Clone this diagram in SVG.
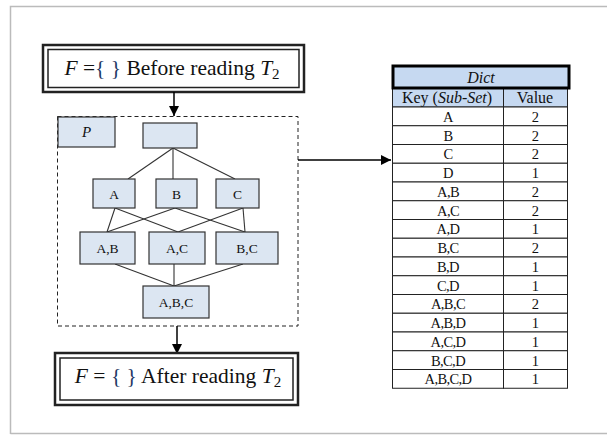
<svg xmlns="http://www.w3.org/2000/svg" width="607" height="435" viewBox="0 0 607 435">
<style>
.t{font-family:"Liberation Serif","Times New Roman",serif;fill:#111}
.big{font-size:21.5px}
.lbl{font-size:13.5px;text-anchor:middle}
.tbl{font-size:14.5px;text-anchor:middle;letter-spacing:-0.6px}
.hdt{font-size:16px;text-anchor:middle}
.node{fill:#dce6f2;stroke:#333;stroke-width:1.2}
.ln{stroke:#333;stroke-width:1.1;fill:none}
.cell{fill:#fff;stroke:#222;stroke-width:1}
.hd{fill:#c6d9f1;stroke:#222;stroke-width:1}
</style>
<defs>
<marker id="ah" viewBox="0 0 10 10" refX="10" refY="5" markerWidth="10" markerHeight="10" markerUnits="userSpaceOnUse" orient="auto">
<path d="M0,0 L10,5 L0,10 z" fill="#000"/>
</marker>
</defs>
<rect x="0" y="0" width="607" height="435" fill="#fff"/>
<path d="M10.5,434 V6.5 H607" fill="none" stroke="#bbb" stroke-width="1.5"/>
<path d="M10.5,433.5 H607" fill="none" stroke="#bbb" stroke-width="1.5"/>

<g id="before">
<rect x="43" y="45" width="261" height="47" fill="#fff" stroke="#222" stroke-width="2.5"/>
<rect x="48" y="49.5" width="251" height="38" fill="none" stroke="#222" stroke-width="1.5"/>
<text class="t big" x="172" y="75" text-anchor="middle"><tspan font-style="italic">F</tspan> =<tspan fill="#1f3864">{ }</tspan> Before reading <tspan font-style="italic">T</tspan><tspan font-size="15" dy="4">2</tspan></text>
</g>

<g id="frame">
<rect x="57.5" y="116.5" width="240.5" height="209.5" fill="none" stroke="#222" stroke-width="1" stroke-dasharray="4,3"/>
</g>

<g id="connectors">
<line x1="174" y1="92" x2="174" y2="116" stroke="#000" stroke-width="1.5" marker-end="url(#ah)"/>
<line x1="177" y1="326" x2="177" y2="354" stroke="#000" stroke-width="1.5" marker-end="url(#ah)"/>
<line x1="298" y1="160" x2="391" y2="160" stroke="#000" stroke-width="1.5" marker-end="url(#ah)"/>
<line class="ln" x1="173" y1="148" x2="128" y2="179"/>
<line class="ln" x1="173" y1="148" x2="173" y2="179"/>
<line class="ln" x1="173" y1="148" x2="235" y2="179"/>
<line class="ln" x1="115" y1="208" x2="107" y2="232"/>
<line class="ln" x1="115" y1="208" x2="178" y2="232"/>
<line class="ln" x1="175" y1="208" x2="107" y2="232"/>
<line class="ln" x1="175" y1="208" x2="245" y2="232"/>
<line class="ln" x1="243" y1="208" x2="178" y2="232"/>
<line class="ln" x1="243" y1="208" x2="245" y2="232"/>
<line class="ln" x1="115" y1="264" x2="174" y2="286"/>
<line class="ln" x1="174" y1="264" x2="174" y2="286"/>
<line class="ln" x1="243" y1="264" x2="174" y2="286"/>
</g>

<g id="P"><rect class="node" x="58" y="117" width="57" height="30"/><text class="t lbl" x="86.5" y="137" style="font-size:15px;font-style:italic">P</text></g>
<g id="root"><rect class="node" x="143" y="123" width="54" height="25"/></g>
<g id="nA"><rect class="node" x="93" y="179" width="42" height="29"/><text class="t lbl" x="114" y="198.5">A</text></g>
<g id="nB"><rect class="node" x="156" y="179" width="41" height="29"/><text class="t lbl" x="176.5" y="198.5">B</text></g>
<g id="nC"><rect class="node" x="216" y="179" width="43" height="29"/><text class="t lbl" x="237.5" y="198.5">C</text></g>
<g id="nAB"><rect class="node" x="80" y="232" width="55" height="32"/><text class="t lbl" x="107.5" y="252.5">A,B</text></g>
<g id="nAC"><rect class="node" x="149" y="232" width="56" height="32"/><text class="t lbl" x="177" y="252.5">A,C</text></g>
<g id="nBC"><rect class="node" x="216" y="232" width="62" height="32"/><text class="t lbl" x="247" y="252.5">B,C</text></g>
<g id="nABC"><rect class="node" x="143" y="286" width="66" height="32"/><text class="t lbl" x="176" y="306.5">A,B,C</text></g>

<g id="after">
<rect x="55" y="353" width="243" height="52" fill="#fff" stroke="#222" stroke-width="2.5"/>
<rect x="60" y="358" width="233" height="42" fill="none" stroke="#222" stroke-width="1.5"/>
<text class="t big" x="178" y="383" text-anchor="middle"><tspan font-style="italic">F</tspan> = <tspan fill="#1f3864">{ }</tspan> After reading <tspan font-style="italic">T</tspan><tspan font-size="15" dy="4">2</tspan></text>
</g>

<g id="dict">
<rect x="392.5" y="88" width="111" height="19" class="hd"/>
<rect x="503.5" y="88" width="64" height="19" class="hd"/>
<rect x="393" y="66" width="176" height="22" fill="#c6d9f1" stroke="#000" stroke-width="3"/>
<text class="t hdt" x="481" y="82.5" font-style="italic">Dict</text>
<text class="t hdt" x="447" y="103">Key (<tspan font-style="italic">Sub-Set</tspan>)</text>
<text class="t hdt" x="535" y="103">Value</text>
<g>
<rect class="cell" x="392.5" y="107" width="111" height="18.75"/><rect class="cell" x="503.5" y="107" width="64" height="18.75"/>
<rect class="cell" x="392.5" y="125.75" width="111" height="18.75"/><rect class="cell" x="503.5" y="125.75" width="64" height="18.75"/>
<rect class="cell" x="392.5" y="144.5" width="111" height="18.75"/><rect class="cell" x="503.5" y="144.5" width="64" height="18.75"/>
<rect class="cell" x="392.5" y="163.25" width="111" height="18.75"/><rect class="cell" x="503.5" y="163.25" width="64" height="18.75"/>
<rect class="cell" x="392.5" y="182" width="111" height="18.75"/><rect class="cell" x="503.5" y="182" width="64" height="18.75"/>
<rect class="cell" x="392.5" y="200.75" width="111" height="18.75"/><rect class="cell" x="503.5" y="200.75" width="64" height="18.75"/>
<rect class="cell" x="392.5" y="219.5" width="111" height="18.75"/><rect class="cell" x="503.5" y="219.5" width="64" height="18.75"/>
<rect class="cell" x="392.5" y="238.25" width="111" height="18.75"/><rect class="cell" x="503.5" y="238.25" width="64" height="18.75"/>
<rect class="cell" x="392.5" y="257" width="111" height="18.75"/><rect class="cell" x="503.5" y="257" width="64" height="18.75"/>
<rect class="cell" x="392.5" y="275.75" width="111" height="18.75"/><rect class="cell" x="503.5" y="275.75" width="64" height="18.75"/>
<rect class="cell" x="392.5" y="294.5" width="111" height="18.75"/><rect class="cell" x="503.5" y="294.5" width="64" height="18.75"/>
<rect class="cell" x="392.5" y="313.25" width="111" height="18.75"/><rect class="cell" x="503.5" y="313.25" width="64" height="18.75"/>
<rect class="cell" x="392.5" y="332" width="111" height="18.75"/><rect class="cell" x="503.5" y="332" width="64" height="18.75"/>
<rect class="cell" x="392.5" y="350.75" width="111" height="18.75"/><rect class="cell" x="503.5" y="350.75" width="64" height="18.75"/>
<rect class="cell" x="392.5" y="369.5" width="111" height="18.75"/><rect class="cell" x="503.5" y="369.5" width="64" height="18.75"/>
</g>
<g class="t tbl">
<text x="448" y="121.5">A</text><text x="535" y="121.5">2</text>
<text x="448" y="140.5">B</text><text x="535" y="140.5">2</text>
<text x="448" y="159">C</text><text x="535" y="159">2</text>
<text x="448" y="178">D</text><text x="535" y="178">1</text>
<text x="448" y="196.5">A,B</text><text x="535" y="196.5">2</text>
<text x="448" y="215.5">A,C</text><text x="535" y="215.5">2</text>
<text x="448" y="234">A,D</text><text x="535" y="234">1</text>
<text x="448" y="253">B,C</text><text x="535" y="253">2</text>
<text x="448" y="271.5">B,D</text><text x="535" y="271.5">1</text>
<text x="448" y="290.5">C,D</text><text x="535" y="290.5">1</text>
<text x="448" y="309">A,B,C</text><text x="535" y="309">2</text>
<text x="448" y="328">A,B,D</text><text x="535" y="328">1</text>
<text x="448" y="346.5">A,C,D</text><text x="535" y="346.5">1</text>
<text x="448" y="365.5">B,C,D</text><text x="535" y="365.5">1</text>
<text x="448" y="384">A,B,C,D</text><text x="535" y="384">1</text>
</g>
</g>
</svg>
